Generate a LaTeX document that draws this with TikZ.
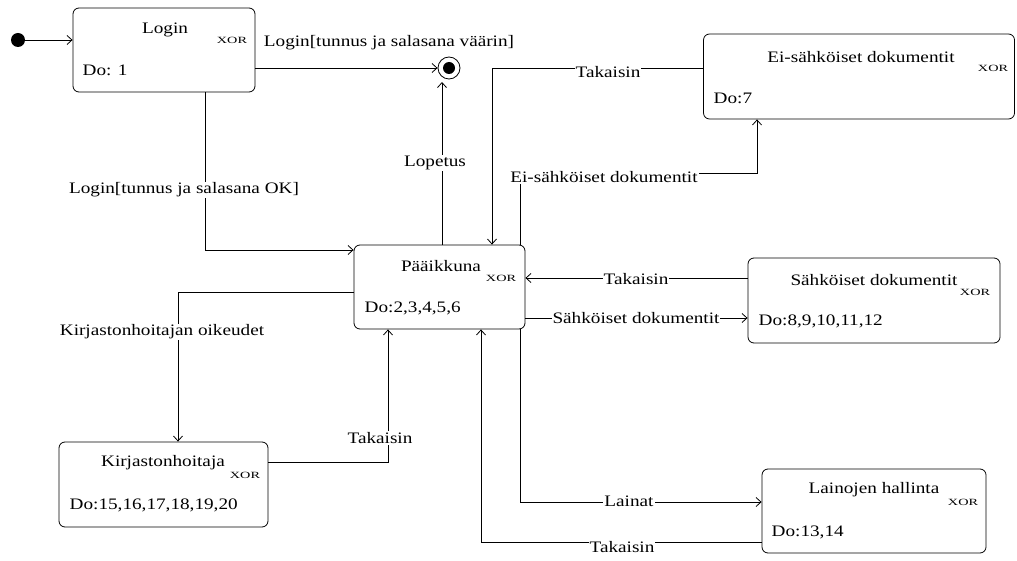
\documentclass[tikz,border=0pt]{standalone}
\usepackage{fontspec}
\setmainfont{Liberation Serif}[FakeStretch=1.2]
\newfontfamily\xorfont{Liberation Serif}[FakeStretch=1.5]
\usepackage{tikz}
\usetikzlibrary{arrows.meta,calc,positioning}
\newcommand{\xor}{{\xorfont\fontsize{9.5}{9.5}\selectfont XOR}}

\begin{document}
\begin{tikzpicture}[x=1pt,y=-1pt,line width=0.8pt,
  font=\fontsize{16}{18}\selectfont,
  state/.style={draw,rounded corners=6pt,inner sep=0pt},
  trans/.style={-{Straight Barb[length=5pt,width=9pt]}},
  lbl/.style={fill=white,inner sep=1pt}]
\useasboundingbox (0,0) rectangle (1017,561);
\node[state,minimum width=182,minimum height=84] (login) at (164,50) {};
\node[state,minimum width=171,minimum height=84] (paa) at (439.5,287) {};
\node[state,minimum width=311,minimum height=85] (eis) at (859,76.5) {};
\node[state,minimum width=252,minimum height=85] (sah) at (874,300.5) {};
\node[state,minimum width=224,minimum height=84] (lain) at (874,511) {};
\node[state,minimum width=209,minimum height=85] (kirj) at (163.5,484.5) {};
\node (logint) at (165,30) {Login};
\node (loginx) at (232,40) {\xor};
\node[anchor=west] (logind) at (79,70) {Do: 1};
\node (paat) at (441,266) {Pääikkuna};
\node (paax) at (501,278) {\xor};
\node[anchor=west] (paad) at (361,308) {Do:2,3,4,5,6};
\node (eist) at (861,57) {Ei-sähköiset dokumentit};
\node (eisx) at (993,68) {\xor};
\node[anchor=west] (eisd) at (710,98) {Do:7};
\node (saht) at (874,280) {Sähköiset dokumentit};
\node (sahx) at (975,292) {\xor};
\node[anchor=west] (sahd) at (755,321) {Do:8,9,10,11,12};
\node (laint) at (874,490) {Lainojen hallinta};
\node (lainx) at (963,502) {\xor};
\node[anchor=west] (laind) at (768,532) {Do:13,14};
\node (kirjt) at (163,463) {Kirjastonhoitaja};
\node (kirjx) at (245,475) {\xor};
\node[anchor=west] (kirjd) at (66,505) {Do:15,16,17,18,19,20};
\node[circle,fill,inner sep=0pt,minimum size=14] (init) at (18,40) {};
\node[circle,draw,inner sep=0pt,minimum size=22] (fin) at (449,68) {};
\node[circle,fill,inner sep=0pt,minimum size=12] (finin) at (fin) {};
\coordinate (lopend) at (442,82);
\coordinate (okbend) at (205,250);
\coordinate (eisback) at (492,68);
\coordinate (eisgo) at (520,173);
\coordinate (eisup) at (757,173);
\coordinate (ysb) at (0,278);
\coordinate (ysg) at (0,318);
\coordinate (laingo) at (520,502);
\coordinate (lainback) at (481,542);
\coordinate (kirjgo) at (178,292);
\coordinate (kirjback) at (388,462);
\draw[trans] (init) -- (init -| login.west);
\draw[trans] (login.east |- fin.west) -- (fin.west);
\node (wrong) at (389,43) {Login[tunnus ja salasana väärin]};
\draw[trans] (login.south -| okbend) -- (okbend) -- (okbend -| paa.west);
\node[lbl] (ok) at (184,190) {Login[tunnus ja salasana OK]};
\draw[trans] (paa.north -| lopend) -- (lopend);
\node[lbl] (lop) at (435,163) {Lopetus};
\draw[trans] (eisback -| eis.west) -- (eisback) -- (eisback |- paa.north);
\node[lbl] (eisbackl) at (608,72) {Takaisin};
\draw[trans] (eisgo |- paa.north) -- (eisgo) -- (eisup) -- (eisup |- eis.south);
\node[lbl] (eisgol) at (604,177) {Ei-sähköiset dokumentit};
\draw[trans] (sah.west |- ysb) -- (paa.east |- ysb);
\node[lbl] (sahbackl) at (636,279) {Takaisin};
\draw[trans] (paa.east |- ysg) -- (sah.west |- ysg);
\node[lbl] (sahgol) at (636,318) {Sähköiset dokumentit};
\draw[trans] (laingo |- paa.south) -- (laingo) -- (laingo -| lain.west);
\node[lbl] (laingol) at (629,501) {Lainat};
\draw[trans] (lainback -| lain.west) -- (lainback) -- (lainback |- paa.south);
\node[lbl] (lainbackl) at (622,547) {Takaisin};
\draw[trans] (kirjgo -| paa.west) -- (kirjgo) -- (kirjgo |- kirj.north);
\node[lbl] (kirjgol) at (162,332) {Kirjastonhoitajan oikeudet};
\draw[trans] (kirjback -| kirj.east) -- (kirjback) -- (kirjback |- paa.south);
\node[lbl] (kirjbackl) at (380,438) {Takaisin};
\end{tikzpicture}
\end{document}
